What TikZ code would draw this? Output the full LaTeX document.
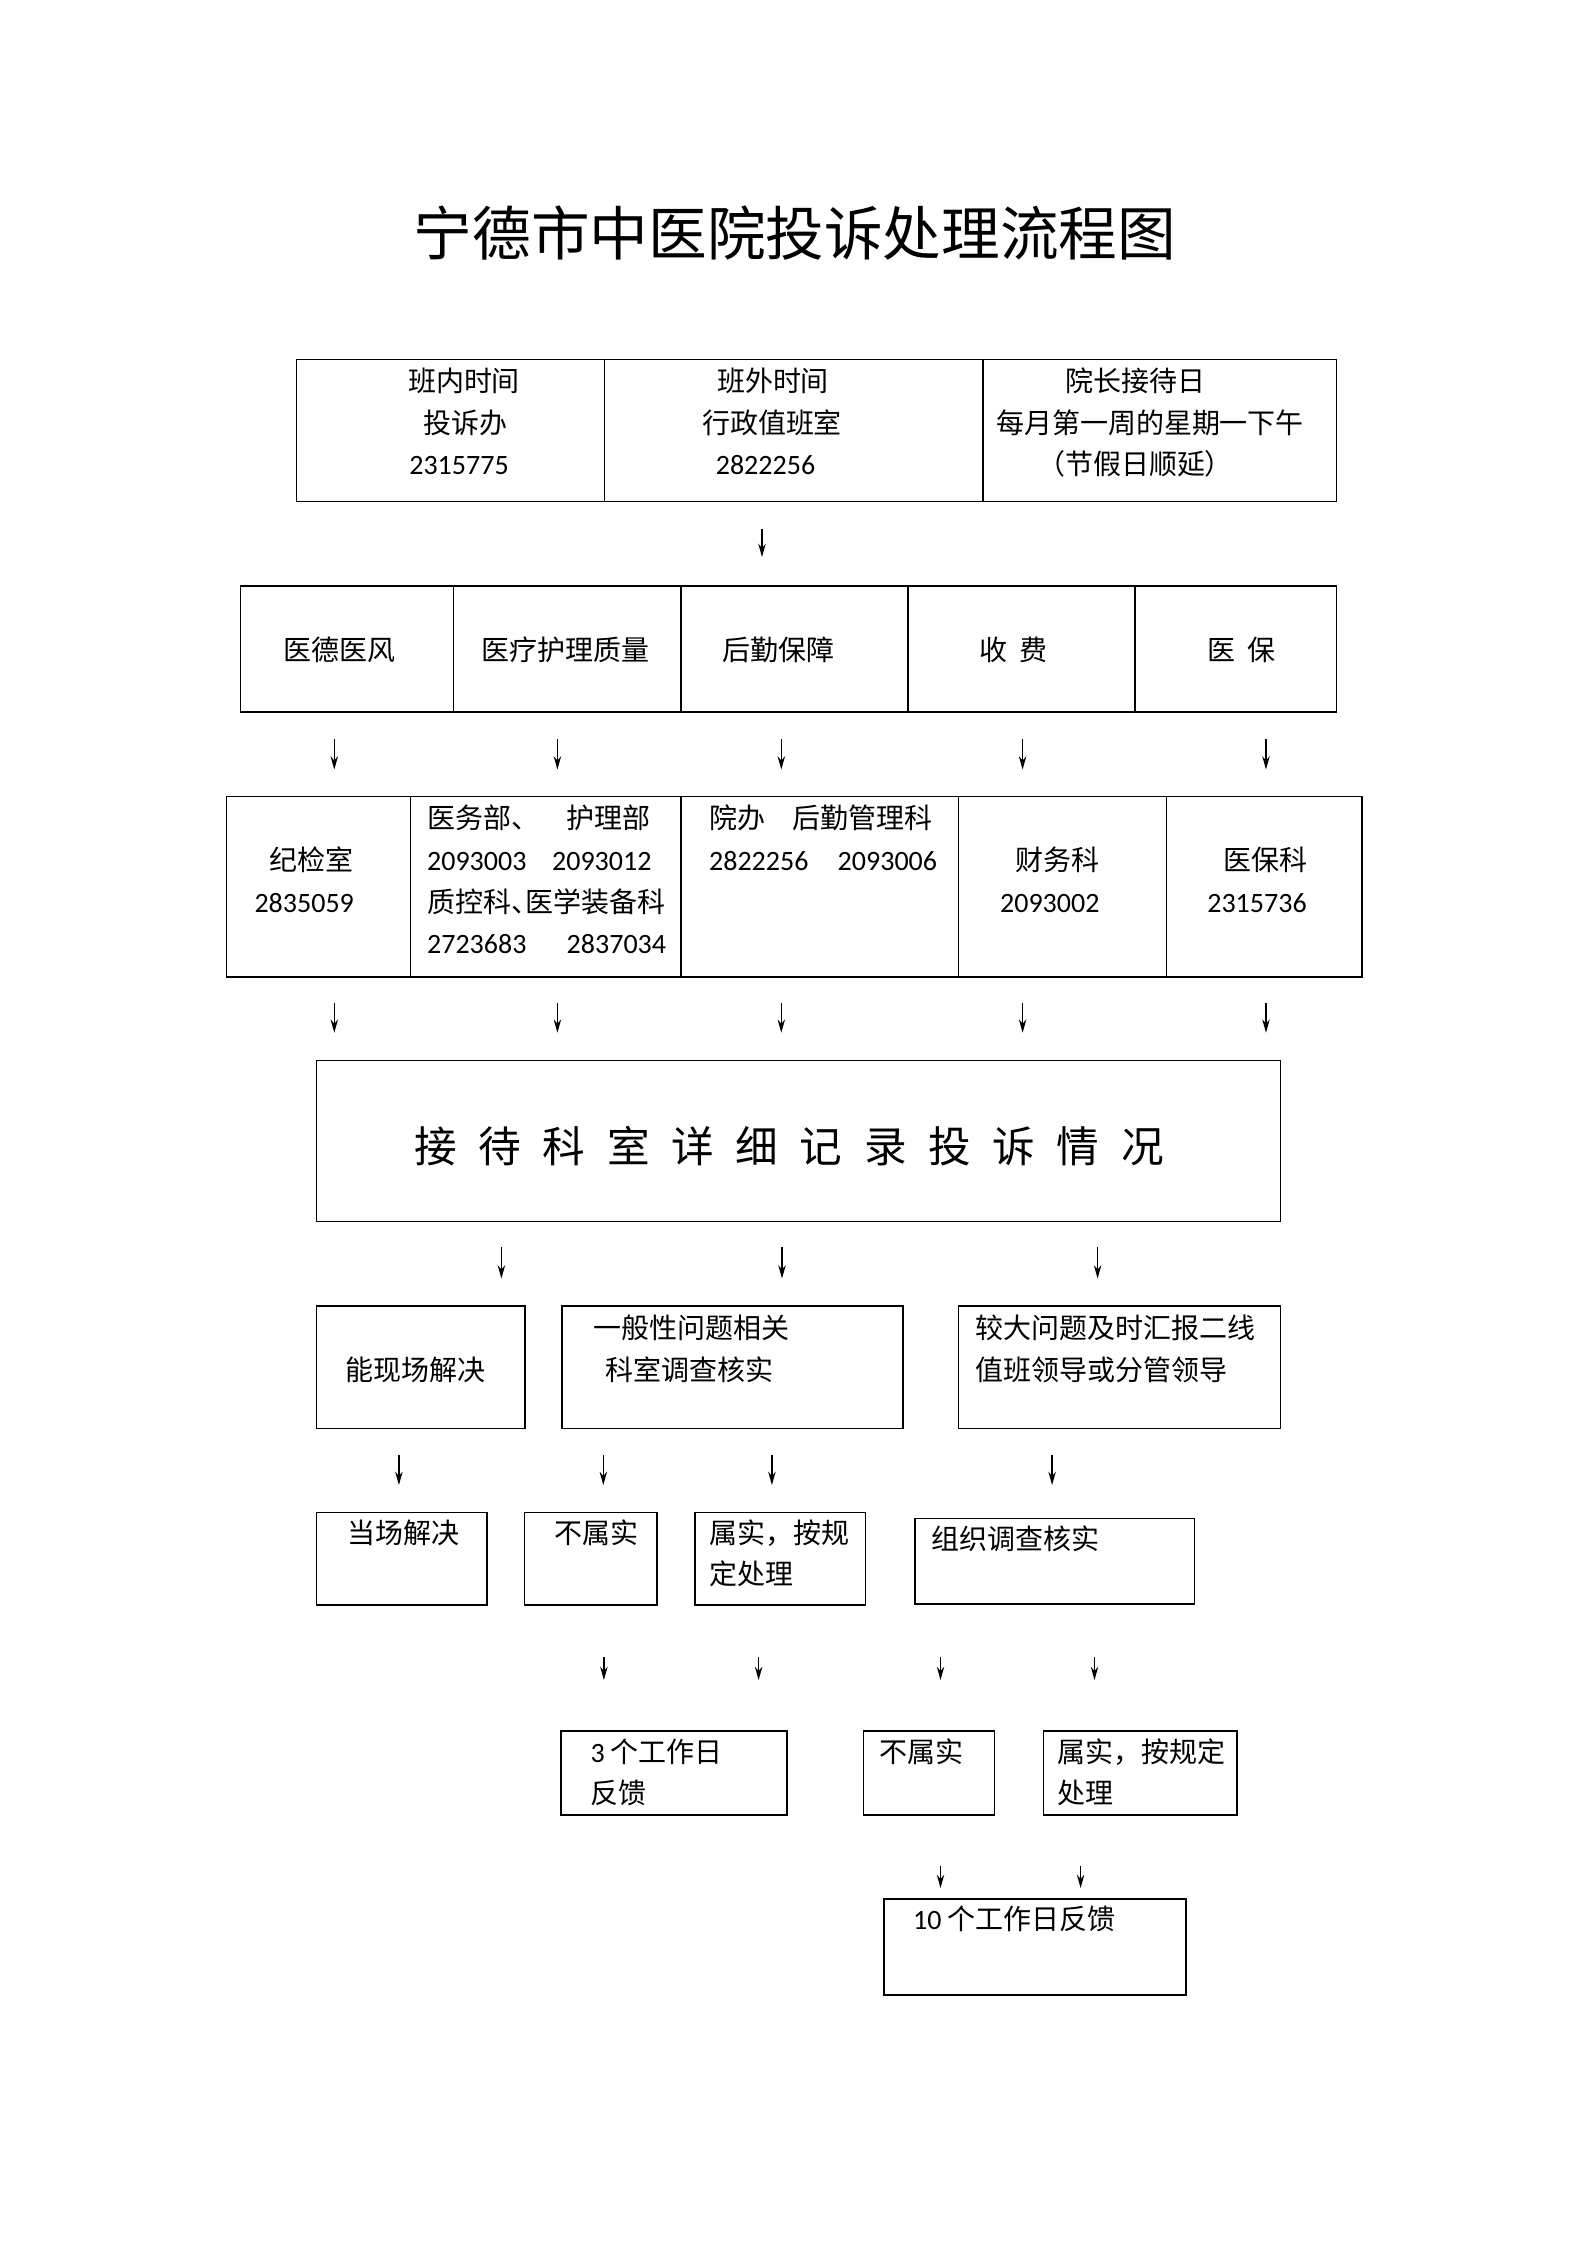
\documentclass[tikz,border=0pt]{standalone}
\usepackage{fontspec}
\setmainfont{Noto Sans CJK SC}
\newfontfamily\latin{Carlito}
\usetikzlibrary{arrows.meta,fit}
\newcommand\bgap{\hspace{8.1pt}}
\begin{document}
\begin{tikzpicture}[x=0.37510pt,y=-0.37510pt,
  cell/.style={draw,line width=0.6pt,inner sep=0pt},
  txt/.style={inner sep=0pt,font=\fontsize{10.5}{15.6}\selectfont,text height=9pt,text depth=1.5pt},
  ltxt/.style={txt,anchor=west},
  arr/.style={line width=0.5pt,-{Stealth[length=5pt,width=2.8pt]}}]
\fill[white] (0,0) rectangle (1587,2245);
\useasboundingbox (0,0) rectangle (1587,2245);

% title
\node[inner sep=0pt,font=\fontsize{22}{26}\selectfont] (title) at (795,233) {宁德市中医院投诉处理流程图};

% top table
\node[cell,fit={(296.5,359.5)(604.4,501.3)}] (t1) {};
\node[cell,fit={(604.4,359.5)(983,501.3)}] (t2) {};
\node[cell,fit={(983,359.5)(1336.3,501.3)}] (t3) {};
\node[txt] (t1a) at (464,381) {班内时间};
\node[txt] (t1b) at (465.5,423) {投诉办};
\node[txt] (t1c) at (459,464) {\latin 2315775};
\node[txt] (t2a) at (773,381) {班外时间};
\node[txt] (t2b) at (772,423) {行政值班室};
\node[txt] (t2c) at (765.5,464) {\latin 2822256};
\node[txt] (t3a) at (1135.5,381) {院长接待日};
\node[txt] (t3b) at (1150,423) {每月第一周的星期一下午};
\node[txt] (t3c) at (1135,464) {（节假日顺延）};

\coordinate (a0s) at (762,528.5); \coordinate (a0e) at (762,557);
\draw[arr] (a0s) -- (a0e);

% row 2
\node[cell,fit={(240.6,585.8)(453.5,711.9)}] (c1) {};
\node[cell,fit={(453.5,585.8)(681,711.9)}] (c2) {};
\node[cell,fit={(681,585.8)(907.7,711.9)}] (c3) {};
\node[cell,fit={(907.7,585.8)(1135.2,711.9)}] (c4) {};
\node[cell,fit={(1135.2,585.8)(1336.3,711.9)}] (c5) {};
\node[txt] (c1t) at (339.4,650) {医德医风};
\node[txt] (c2t) at (565.8,650) {医疗护理质量};
\node[txt] (c3t) at (778.4,650) {后勤保障};
\node[txt] (c4t) at (1013.5,650) {收\hspace{0.45em}费};
\node[txt] (c5t) at (1241.3,650) {医\hspace{0.45em}保};

\foreach \i/\x in {1/334.3,2/557.4,3/781.3,4/1022.6,5/1266}{
  \coordinate (b\i s) at (\x,739.3); \coordinate (b\i e) at (\x,769.5);
  \draw[arr] (b\i s) -- (b\i e);
  \coordinate (d\i s) at (\x,1002.6); \coordinate (d\i e) at (\x,1032.7);
  \draw[arr] (d\i s) -- (d\i e);
}

% row 3
\node[cell,fit={(226.3,796.4)(410.6,976.8)}] (e1) {};
\node[cell,fit={(410.6,796.4)(681,976.8)}] (e2) {};
\node[cell,fit={(681,796.4)(958.6,976.8)}] (e3) {};
\node[cell,fit={(958.6,796.4)(1166.4,976.8)}] (e4) {};
\node[cell,fit={(1166.4,796.4)(1362.1,976.8)}] (e5) {};
\node[txt] (e1a) at (311.4,860) {纪检室};
\node[txt] (e1b) at (304.2,902) {\latin 2835059};
\node[ltxt] (e2a) at (426.6,818) {医务部、};
\node[ltxt] (e2b) at (566.2,818) {护理部};
\node[ltxt] (e2c) at (426.6,860) {\latin 2093003};
\node[ltxt] (e2d) at (551.6,860) {\latin 2093012};
\node[ltxt] (e2e) at (426.6,902) {质控科\makebox[0.5em][l]{、}医学装备科};
\node[ltxt] (e2f) at (426.6,943) {\latin 2723683};
\node[ltxt] (e2g) at (566.2,943) {\latin 2837034};
\node[ltxt] (e3a) at (708.6,818) {院办};
\node[ltxt] (e3b) at (792.2,818) {后勤管理科};
\node[ltxt] (e3c) at (708.6,860) {\latin 2822256};
\node[ltxt] (e3d) at (837.2,860) {\latin 2093006};
\node[txt] (e4a) at (1057,860) {财务科};
\node[txt] (e4b) at (1049.8,902) {\latin 2093002};
\node[txt] (e5a) at (1265,860) {医保科};
\node[txt] (e5b) at (1257,902) {\latin 2315736};

% big box
\node[cell,fit={(316.5,1060.5)(1280.5,1221.5)}] (big) {};
\node[inner sep=0pt,font=\fontsize{16}{20}\selectfont] (bigt) at (789,1145.7)
 {接\bgap 待\bgap 科\bgap 室\bgap 详\bgap 细\bgap 记\bgap 录\bgap 投\bgap 诉\bgap 情\bgap 况};

\foreach \i/\x in {1/501.4,2/782,3/1097.6}{
  \coordinate (f\i s) at (\x,1247.3); \coordinate (f\i e) at (\x,1278.5);
  \draw[arr] (f\i s) -- (f\i e);
}

% row 4
\node[cell,fit={(316.5,1306)(525,1428.3)}] (g1) {};
\node[cell,fit={(562,1306)(903.1,1428.3)}] (g2) {};
\node[cell,fit={(958.6,1306)(1280.5,1428.3)}] (g3) {};
\node[ltxt] (g1t) at (345.2,1370) {能现场解决};
\node[ltxt] (g2a) at (592.6,1328.3) {一般性问题相关};
\node[ltxt] (g2b) at (605.4,1370) {科室调查核实};
\node[ltxt] (g3a) at (975.1,1328.3) {较大问题及时汇报二线};
\node[ltxt] (g3b) at (975.1,1370) {值班领导或分管领导};

\foreach \i/\x in {1/398.9,2/603.3,3/771.9,4/1052.1}{
  \coordinate (h\i s) at (\x,1455); \coordinate (h\i e) at (\x,1485);
  \draw[arr] (h\i s) -- (h\i e);
}

% row 5
\node[cell,fit={(316.5,1512.5)(486.9,1604.9)}] (k1) {};
\node[cell,fit={(524.5,1512.5)(656.7,1604.9)}] (k2) {};
\node[cell,fit={(694.9,1512.5)(865.3,1604.9)}] (k3) {};
\node[cell,fit={(915,1518.3)(1194.6,1603.8)}] (k4) {};
\node[ltxt] (k1t) at (347.4,1533) {当场解决};
\node[ltxt] (k2t) at (553.6,1533) {不属实};
\node[ltxt] (k3a) at (709.4,1533) {属实，按规};
\node[ltxt] (k3b) at (709.4,1574.5) {定处理};
\node[ltxt] (k4t) at (930.8,1539) {组织调查核实};

\foreach \i/\x in {1/603.9,2/758.6,3/940.5,4/1094.5}{
  \coordinate (m\i s) at (\x,1657.3); \coordinate (m\i e) at (\x,1680);
  \draw[arr] (m\i s) -- (m\i e);
}

% row 6
\node[cell,fit={(560.9,1730.7)(787.1,1815.2)}] (n1) {};
\node[cell,fit={(863.5,1730.7)(994.5,1815.2)}] (n2) {};
\node[cell,fit={(1043.6,1730.7)(1237,1815.2)}] (n3) {};
\node[ltxt] (n1a) at (590,1752) {{\latin 3} 个工作日};
\node[ltxt] (n1b) at (590,1793.5) {反馈};
\node[ltxt] (n2t) at (879.2,1752) {不属实};
\node[ltxt] (n3a) at (1056.9,1752) {属实，按规定};
\node[ltxt] (n3b) at (1056.9,1793.5) {处理};

\foreach \i/\x in {1/940.5,2/1080.6}{
  \coordinate (p\i s) at (\x,1865.9); \coordinate (p\i e) at (\x,1888);
  \draw[arr] (p\i s) -- (p\i e);
}

% row 7
\node[cell,fit={(884.1,1899)(1186,1995.2)}] (q1) {};
\node[ltxt] (q1t) at (912.6,1919.4) {{\latin 10} 个工作日反馈};
\end{tikzpicture}
\end{document}
